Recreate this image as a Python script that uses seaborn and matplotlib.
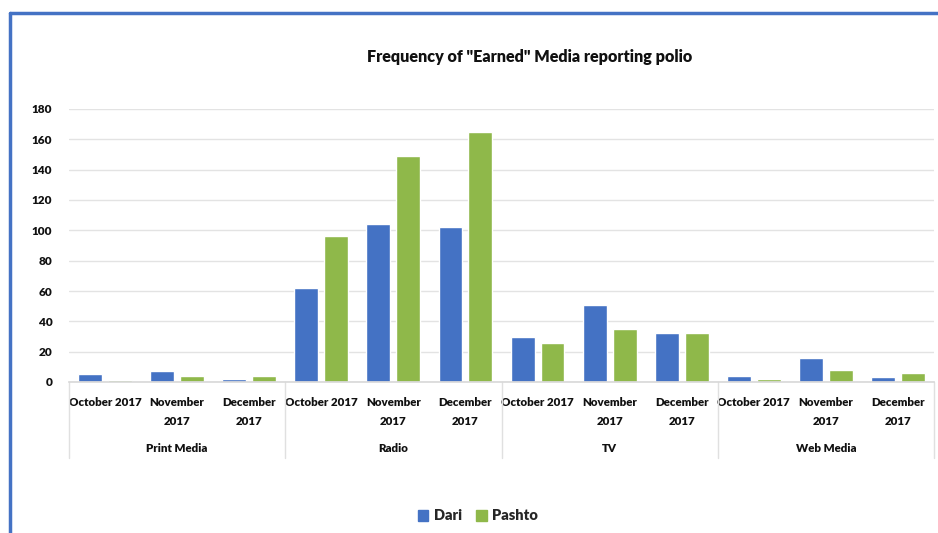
import matplotlib
matplotlib.use("Agg")
import matplotlib.pyplot as plt
from matplotlib.lines import Line2D
import seaborn as sns
import pandas as pd

media = ["Print Media", "Radio", "TV", "Web Media"]
months = ["October 2017", "November\n2017", "December\n2017"]
dari = [5, 7, 2, 62, 104, 102, 30, 51, 32, 4, 16, 3]
pashto = [1, 4, 4, 96, 149, 165, 26, 35, 32, 2, 8, 6]
series = ["Dari", "Pashto"]
colors = ["#4472C4", "#8FB84A"]
yticks = [0, 20, 40, 60, 80, 100, 120, 140, 160, 180]

keys = [f"{m}|{mo}" for m in media for mo in months]
rows = []
for k, d, p in zip(keys, dari, pashto):
    rows.append({"key": k, "lang": "Dari", "value": d})
    rows.append({"key": k, "lang": "Pashto", "value": p})
df = pd.DataFrame(rows)

sns.set_theme(style="white")
plt.rcParams["font.family"] = ["Lato", "DejaVu Sans"]
plt.rcParams["font.weight"] = "bold"
FW = "heavy"

W, H = 938, 533
fig = plt.figure(figsize=(W / 100, H / 100), dpi=100)
fig.patch.set_facecolor("white")
ax = fig.add_axes([69 / W, (H - 382) / H, (934 - 69) / W, (382 - 109) / H])

sns.barplot(data=df, x="key", y="value", hue="lang", order=keys,
            hue_order=series, palette=colors, width=0.83, gap=0.2,
            saturation=1, ax=ax, legend=False, errorbar=None)

TXT = "#111111"
ax.set_xlim(-0.5, len(keys) - 0.5)
ax.set_ylim(0, 180)
ax.set_yticks(yticks)
ax.set_yticklabels([str(v) for v in yticks], fontsize=8.5, fontweight=FW, color=TXT)
ax.yaxis.grid(True, color="#E3E3E3", lw=1)
ax.set_axisbelow(True)
for s in ["top", "right", "left"]:
    ax.spines[s].set_visible(False)
ax.spines["bottom"].set_color("#D9D9D9")
ax.tick_params(axis="both", length=0)
ax.tick_params(axis="x", pad=11)
ax.tick_params(axis="y", pad=12)
ax.set_xticks(range(len(keys)))
ax.set_xticklabels([k.split("|")[1] for k in keys], fontsize=8.3,
                   fontweight=FW, color=TXT, va="top", linespacing=1.85)
ax.set_xlabel("")
ax.set_ylabel("")

# group labels and separators
trans = ax.get_xaxis_transform()
for i, m in enumerate(media):
    ax.text(i * 3 + 1, -0.245, m, transform=trans, ha="center", va="center",
            fontsize=8.3, fontweight=FW, color=TXT)
for b in [-0.5, 2.5, 5.5, 8.5, 11.5]:
    ax.add_line(Line2D([b, b], [0, -0.28], transform=trans, color="#E0E0E0",
                       lw=1, clip_on=False))

fig.text(530 / W, 1 - 57 / H, 'Frequency of "Earned" Media reporting polio',
         ha="center", va="center", fontsize=11.6, fontweight=FW, color="#111111")

handles = [plt.Rectangle((0, 0), 1, 1, color=c) for c in colors]
fig.legend(handles, series, loc="center", bbox_to_anchor=(478 / W, 1 - 516 / H),
           ncol=2, frameon=False, handlelength=0.7, handleheight=0.7,
           handletextpad=0.4, columnspacing=1.0,
           prop={"size": 10.5, "weight": FW})

# blue frame (screenshot border)
fig.add_artist(Line2D([10 / W, 10 / W], [0, 1 - 13 / H], color="#4472C4", lw=2.5,
                      transform=fig.transFigure))
fig.add_artist(Line2D([10 / W, 1], [1 - 13 / H, 1 - 13 / H], color="#4472C4", lw=2.5,
                      transform=fig.transFigure))

fig.savefig("out.png", dpi=100, facecolor="white")
